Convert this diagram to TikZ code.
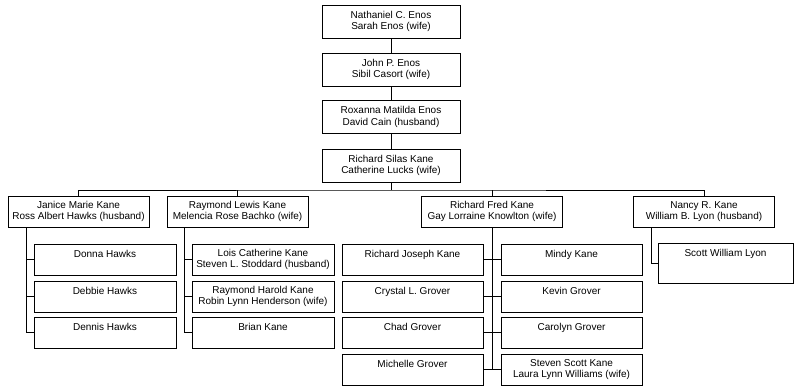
\documentclass[tikz,border=0pt]{standalone}
\usepackage{fontspec}
\setmainfont{Liberation Sans}
\begin{document}
\begin{tikzpicture}[x=1pt,y=-1pt,
  box/.style={draw=black,line width=0.8pt,fill=white,align=center,inner sep=0pt,
    font=\fontsize{10}{11.5}\selectfont},
  topbox/.style={box,minimum width=138,minimum height=33},
  midbox/.style={box,minimum width=141,minimum height=31},
  kidbox/.style={box,minimum width=142,minimum height=31},
  link/.style={draw=black,line width=0.8pt}]
\useasboundingbox (0,0) rectangle (794,385);
% ancestors
\node[topbox] (n1) at (391,21.5) {Nathaniel C. Enos\\Sarah Enos (wife)};
\node[topbox] (n2) at (391,69.5) {John P. Enos\\Sibil Casort (wife)};
\node[topbox] (n3) at (391,117) {Roxanna Matilda Enos\\David Cain (husband)};
\node[topbox] (n4) at (391,165.5) {Richard Silas Kane\\Catherine Lucks (wife)};
% generation 2
\node[midbox] (janice) at (78.5,211.5) {Janice Marie Kane\\Ross Albert Hawks (husband)};
\node[midbox] (raymond) at (237.5,211.5) {Raymond Lewis Kane\\Melencia Rose Bachko (wife)};
\node[midbox] (rf) at (492,211.5) {Richard Fred Kane\\Gay Lorraine Knowlton (wife)};
\node[midbox] (nancy) at (704,211.5) {Nancy R. Kane\\William B. Lyon (husband)};
% Janice's children
\node[kidbox] (donna) at (105,259.5) {Donna Hawks\\~};
\node[kidbox] (debbie) at (105,296.5) {Debbie Hawks\\~};
\node[kidbox] (dennis) at (105,332.5) {Dennis Hawks\\~};
% Raymond's children
\node[kidbox] (lois) at (263,259.5) {Lois Catherine Kane\\Steven L. Stoddard (husband)};
\node[kidbox] (rhk) at (263,296.5) {Raymond Harold Kane\\Robin Lynn Henderson (wife)};
\node[kidbox] (brian) at (263,332.5) {Brian Kane\\~};
% Richard Fred's children
\node[kidbox,minimum width=141] (rjk) at (412.5,259.5) {Richard Joseph Kane\\~};
\node[kidbox,minimum width=141] (crystal) at (412.5,296.5) {Crystal L. Grover\\~};
\node[kidbox,minimum width=141] (chad) at (412.5,332.5) {Chad Grover\\~};
\node[kidbox,minimum width=141] (michelle) at (412.5,369.5) {Michelle Grover\\~};
\node[kidbox,minimum width=141] (mindy) at (571.5,259.5) {Mindy Kane\\~};
\node[kidbox,minimum width=141] (kevin) at (571.5,296.5) {Kevin Grover\\~};
\node[kidbox,minimum width=141] (carolyn) at (571.5,332.5) {Carolyn Grover\\~};
\node[kidbox,minimum width=141] (steven) at (571.5,369.5) {Steven Scott Kane\\Laura Lynn Williams (wife)};
% Nancy's child
\node[kidbox,minimum width=135,minimum height=40] (scott) at (725.5,263) {Scott William Lyon\\[8pt]~};
% coordinates
\coordinate (bus) at (391,190);
\coordinate (jx) at (26,227);
\coordinate (rx) at (184,227);
\coordinate (nx) at (651,227);
% connectors: ancestors
\draw[link] (n1.south) -- (n2.north);
\draw[link] (n2.south) -- (n3.north);
\draw[link] (n3.south) -- (n4.north);
\draw[link] (n4.south) -- (bus);
\draw[link] (janice.north) |- (bus) -| (nancy.north);
\draw[link] (raymond.north) -- (raymond.north |- bus);
\draw[link] (rf.north) -- (rf.north |- bus);
% Janice
\draw[link] (jx) |- (dennis.west);
\draw[link] (jx |- donna.west) -- (donna.west);
\draw[link] (jx |- debbie.west) -- (debbie.west);
% Raymond
\draw[link] (rx) |- (brian.west);
\draw[link] (rx |- lois.west) -- (lois.west);
\draw[link] (rx |- rhk.west) -- (rhk.west);
% Richard Fred
\draw[link] (rf.south) -- (rf.south |- michelle.east);
\draw[link] (rjk.east) -- (mindy.west);
\draw[link] (crystal.east) -- (kevin.west);
\draw[link] (chad.east) -- (carolyn.west);
\draw[link] (michelle.east) -- (steven.west);
% Nancy
\draw[link] (nx) |- (scott.west);
\end{tikzpicture}
\end{document}
